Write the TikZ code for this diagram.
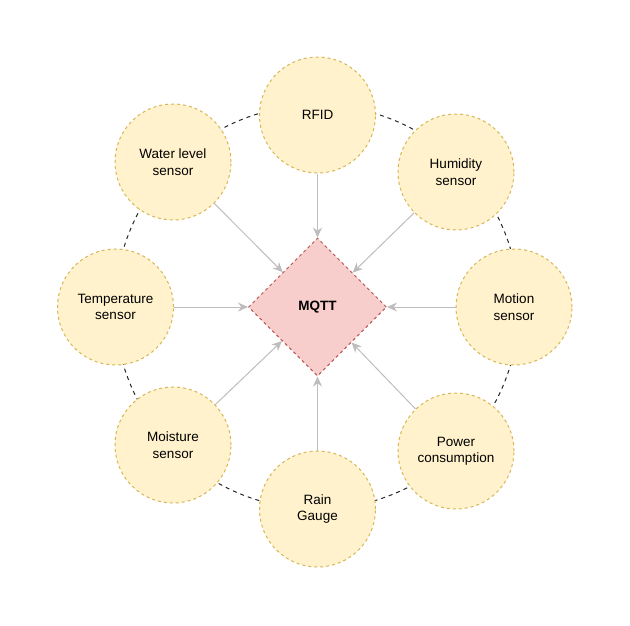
\documentclass[tikz,border=0pt]{standalone}
\usepackage{fontspec}
\setmainfont{Liberation Sans}
\usetikzlibrary{arrows.meta,shapes.geometric}

\definecolor{sensfill}{HTML}{FFF2CC}
\definecolor{sensline}{HTML}{D6B656}
\definecolor{hubfill}{HTML}{F8CECC}
\definecolor{hubline}{HTML}{B85450}
\definecolor{arrgray}{HTML}{BDBDBD}

\begin{document}
\begin{tikzpicture}[x=1pt, y=-1pt,
  sensor/.style={circle, draw=sensline, dashed, fill=sensfill, line width=1pt, minimum size=116pt, inner sep=0pt, align=center, font=\fontsize{13.5}{16.5}\selectfont},
  hub/.style={diamond, draw=hubline, dashed, fill=hubfill, line width=1pt, minimum width=138pt, minimum height=138pt, inner sep=0pt, font=\fontsize{13.5}{16.5}\selectfont\bfseries},
  ring/.style={draw=black!85, line width=1pt, dash pattern=on 4pt off 4pt},
  arr/.style={-{Stealth[length=10pt, width=9pt]}, draw=arrgray, line width=1pt}
]
\useasboundingbox (0,0) rectangle (630,625);

% ring behind the sensors
\draw[ring] (317,307) circle (202);

\node[hub] (mqtt) at (317.5,307) {MQTT};

\node[sensor] (rfid) at (317.5,115) {RFID};
\node[sensor] (humid) at (456,172) {Humidity\\sensor};
\node[sensor] (motion) at (514,307) {Motion\\sensor};
\node[sensor] (power) at (456,451) {Power\\consumption};
\node[sensor] (rain) at (317.5,509) {Rain\\Gauge};
\node[sensor] (moist) at (173,445) {Moisture\\sensor};
\node[sensor] (temp) at (115.5,307) {Temperature\\sensor};
\node[sensor] (water) at (173,162) {Water level\\sensor};

\draw[arr] (rfid) -- (mqtt);
\draw[arr] (humid) -- (mqtt);
\draw[arr] (motion) -- (mqtt);
\draw[arr] (power) -- (mqtt);
\draw[arr] (rain) -- (mqtt);
\draw[arr] (moist) -- (mqtt);
\draw[arr] (temp) -- (mqtt);
\draw[arr] (water) -- (mqtt);

\end{tikzpicture}
\end{document}
